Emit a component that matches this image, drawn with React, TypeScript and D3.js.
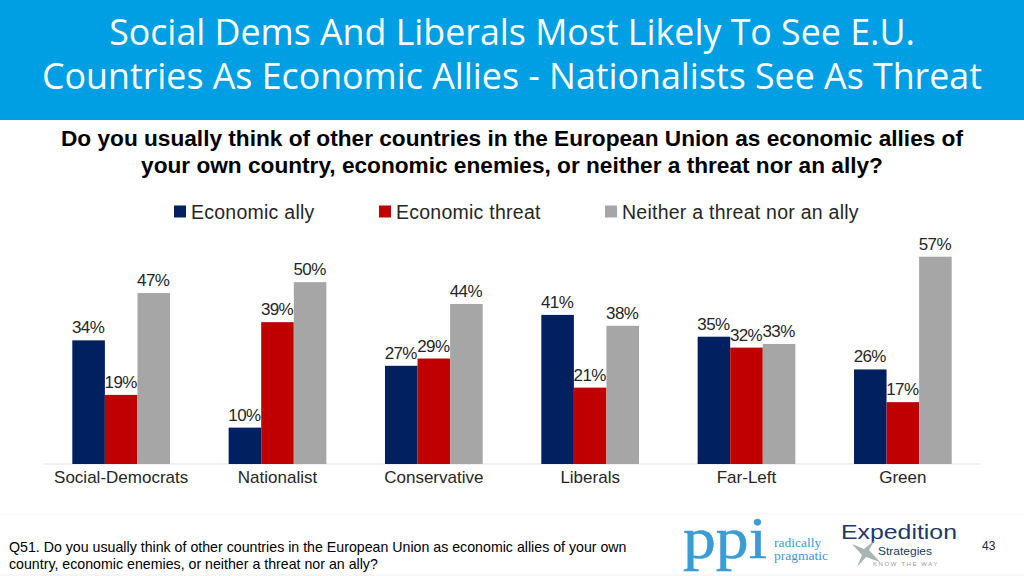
import React from "react";
import * as d3 from "d3";

const categories = ["Social-Democrats", "Nationalist", "Conservative", "Liberals", "Far-Left", "Green"];
const seriesNames = ["Economic ally", "Economic threat", "Neither a threat nor an ally"];
const ally = [34, 10, 27, 41, 35, 26];
const threat = [19, 39, 29, 21, 32, 17];
const neither = [47, 50, 44, 38, 33, 57];
const seriesColors = ["#002060", "#C00000", "#A6A6A6"];
const titleLines = ["Social Dems And Liberals Most Likely To See E.U.", "Countries As Economic Allies - Nationalists See As Threat"];
const questionLines = [
  "Do you usually think of other countries in the European Union as economic allies of",
  "your own country, economic enemies, or neither a threat nor an ally?",
];
const footLines = [
  "Q51. Do you usually think of other countries in the European Union as economic allies of your own",
  "country, economic enemies, or neither a threat nor an ally?",
];

const sans = "'Liberation Sans', Arial, sans-serif";
const series = [ally, threat, neither];

export default function App() {
  const x0 = d3.scaleBand<string>().domain(categories).range([43, 981]).paddingInner(0.375).paddingOuter(0.1875);
  const x1 = d3.scaleBand<number>().domain([0, 1, 2]).range([0, x0.bandwidth()]);
  const y = d3.scaleLinear().domain([0, 57]).range([464, 256.7]);
  const legendX = [174, 379, 605];
  return (
    <svg width={1024} height={576} viewBox="0 0 1024 576" style={{ position: "absolute", left: 0, top: 0, background: "#fff" }}>
      <rect x={0} y={0} width={1024} height={120} fill="#009FE3" />
      {titleLines.map((t, i) => (
        <text key={t} x={512} y={45 + i * 44} textAnchor="middle" fill="#fff" fontFamily="'Open Sans', sans-serif" fontSize={35.75}>
          {t}
        </text>
      ))}
      {questionLines.map((t, i) => (
        <text key={t} x={512} y={146 + i * 27} textAnchor="middle" fill="#000" fontWeight="bold" fontFamily={sans} fontSize={22.65}>
          {t}
        </text>
      ))}
      {seriesNames.map((s, i) => (
        <g key={s}>
          <rect x={legendX[i]} y={205.5} width={12} height={12} fill={seriesColors[i]} />
          <text x={legendX[i] + 17} y={218.5} fill="#262626" fontFamily={sans} fontSize={19.5} letterSpacing={0.25}>
            {s}
          </text>
        </g>
      ))}
      <line x1={43} x2={981} y1={464} y2={464} stroke="#DDE0EA" strokeWidth={1.2} />
      {categories.map((c, ci) => (
        <g key={c}>
          {series.map((vals, si) => {
            const bx = (x0(c) as number) + (x1(si) as number);
            return (
              <g key={si}>
                <rect x={bx} y={y(vals[ci])} width={x1.bandwidth()} height={464 - y(vals[ci])} fill={seriesColors[si]} />
                <text x={bx + x1.bandwidth() / 2 - 0.5} y={y(vals[ci]) - 7} textAnchor="middle" fill="#262626" fontFamily={sans} fontSize={17} letterSpacing={-0.6}>
                  {vals[ci]}%
                </text>
              </g>
            );
          })}
          <text x={(x0(c) as number) + x0.bandwidth() / 2} y={483} textAnchor="middle" fill="#262626" fontFamily={sans} fontSize={17}>
            {c}
          </text>
        </g>
      ))}
      <line x1={0} x2={1024} y1={514} y2={514} stroke="#F4F4F4" />
      <line x1={0} x2={1024} y1={575} y2={575} stroke="#EFEFEF" />
      {footLines.map((t, i) => (
        <text key={t} x={9} y={552 + i * 17} fill="#000" fontFamily={sans} fontSize={14.2}>
          {t}
        </text>
      ))}
      <text x={683} y={558} fill="#3A9BD5" stroke="#3A9BD5" strokeWidth={0.5} fontFamily="'Liberation Serif', serif" fontSize={60} textLength={84} lengthAdjust="spacingAndGlyphs">ppi</text>
      <text x={774} y={547} fill="#3A9BD5" fontFamily="'Liberation Serif', serif" fontSize={13.5}>radically</text>
      <text x={774} y={560} fill="#3A9BD5" fontFamily="'Liberation Serif', serif" fontSize={13.5}>pragmatic</text>
      <text x={841} y={539} fill="#1F3864" fontFamily={sans} fontSize={21} textLength={116} lengthAdjust="spacingAndGlyphs">Expedition</text>
      <polygon points="875,540 869,550 880,562 866,557 857,567 862,555 852,544 864,549" fill="#9AA8A4" opacity={0.85} />
      <text x={878} y={555} fill="#1F3864" fontFamily={sans} fontSize={11.5} textLength={54} lengthAdjust="spacingAndGlyphs">Strategies</text>
      <text x={873} y={566} fill="#999" fontFamily={sans} fontSize={6} letterSpacing={1.6}>KNOW THE WAY</text>
      <text x={982} y={550} fill="#262626" fontFamily={sans} fontSize={12}>43</text>
    </svg>
  );
}
